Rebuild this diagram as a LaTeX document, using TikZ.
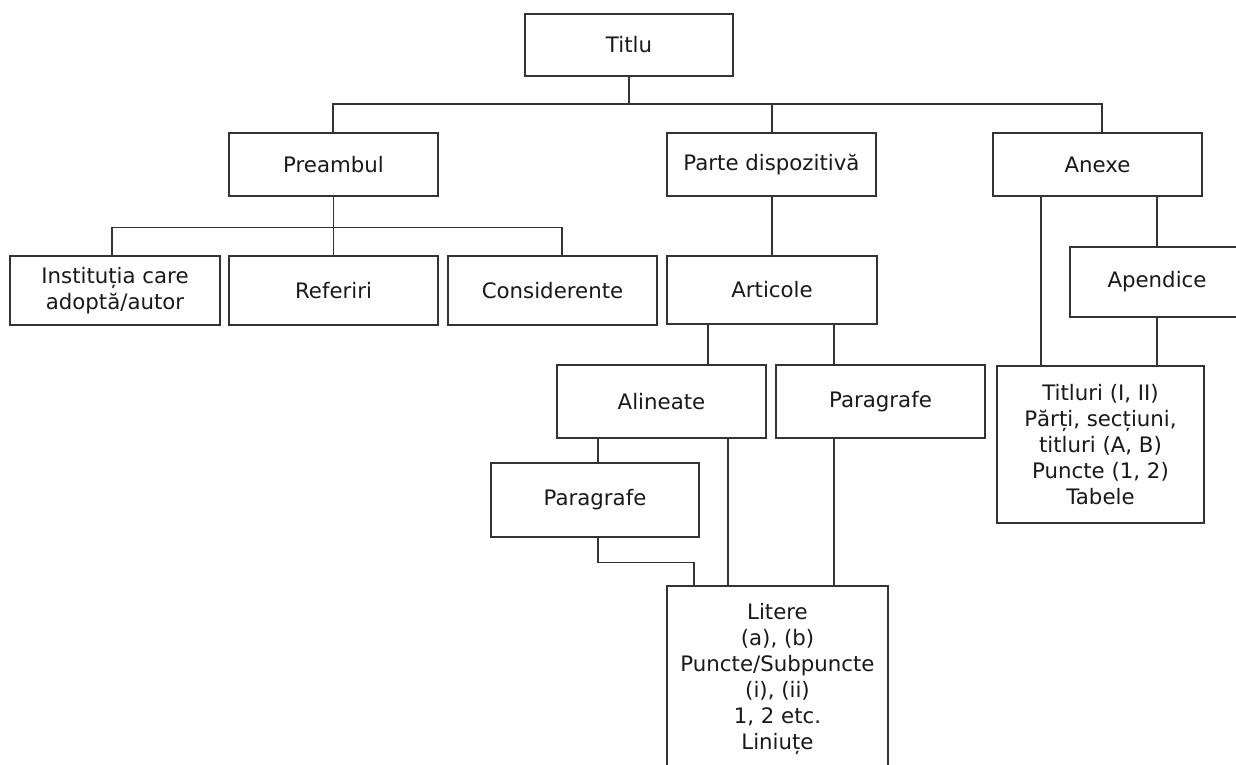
\documentclass[tikz,border=0pt]{standalone}
\usepackage{fontspec}
\setmainfont{DejaVu Sans}
\begin{document}
\begin{tikzpicture}[x=1pt,y=-1pt,
  box/.style={draw=black!80, line width=1.3pt, fill=white, inner sep=0pt, align=center,
    font=\fontsize{21.3}{26}\selectfont, text=black!90},
  conn/.style={draw=black!80, line width=1.3pt}]
\useasboundingbox (0,0) rectangle (1236,764);
\fill[white] (0,0) rectangle (1236,764);
\clip (0,0) rectangle (1236,764);
% boxes
\node[box, minimum width=208pt, minimum height=62pt] (titlu) at (629,45) {Titlu};
\node[box, minimum width=209pt, minimum height=63pt] (preambul) at (333.5,164.5) {Preambul};
\node[box, minimum width=209pt, minimum height=63pt] (parte) at (771.5,164.5) {Parte dispozitivă};
\node[box, minimum width=209pt, minimum height=63pt] (anexe) at (1097.5,164.5) {Anexe};
\node[box, minimum width=210pt, minimum height=69pt] (inst) at (115,290.5) {Instituția care\\adoptă/autor};
\node[box, minimum width=209pt, minimum height=69pt] (referiri) at (333.5,290.5) {Referiri};
\node[box, minimum width=209pt, minimum height=69pt] (consid) at (552.5,290.5) {Considerente};
\node[box, minimum width=210pt, minimum height=68pt] (articole) at (772,290) {Articole};
\node[box, minimum width=174pt, minimum height=70pt] (apendice) at (1157,282) {Apendice};
\node[box, minimum width=209pt, minimum height=73pt] (alineate) at (661.5,401.5) {Alineate};
\node[box, minimum width=209pt, minimum height=73pt] (paragR) at (880.5,401.5) {Paragrafe};
\node[box, minimum width=208pt, minimum height=74pt] (paragL) at (595,500) {Paragrafe};
\node[box, minimum width=207pt, minimum height=157pt] (titluri) at (1100.5,444.5) {Titluri (I, II)\\Părți, secțiuni,\\titluri (A, B)\\Puncte (1, 2)\\Tabele};
\node[box, minimum width=221pt, minimum height=186pt] (litere) at (777.5,679) {Litere\\(a), (b)\\Puncte/Subpuncte\\(i), (ii)\\1, 2 etc.\\Liniuțe};
% connectors
\draw[conn] (titlu.south) -- ++(0,28.5);
\draw[conn] ([xshift=-0.5pt]preambul.north) -- ++(0,-28.5) -| ([xshift=4.5pt]anexe.north);
\draw[conn] ([xshift=0.5pt]parte.north) -- ++(0,-28.5);
\draw[conn] (preambul.south) -- (referiri.north);
\draw[conn] ([xshift=-3pt]inst.north) -- ++(0,-28) -| ([xshift=9.5pt]consid.north);
\draw[conn] ([xshift=0.5pt]parte.south) -- ([xshift=0.5pt]parte.south |- articole.north);
\draw[conn] ([xshift=-64pt]articole.south) -- ([xshift=-64pt]articole.south |- alineate.north);
\draw[conn] ([xshift=62pt]articole.south) -- ([xshift=62pt]articole.south |- paragR.north);
\draw[conn] ([xshift=3pt]paragL.north) -- ([xshift=3pt]paragL.north |- alineate.south);
\draw[conn] ([xshift=66.5pt]alineate.south) -- ([xshift=66.5pt]alineate.south |- litere.north);
\draw[conn] ([xshift=-46.5pt]paragR.south) -- ([xshift=-46.5pt]paragR.south |- litere.north);
\draw[conn] ([xshift=3pt]paragL.south) -- ++(0,25) -| ([xshift=-83.5pt]litere.north);
\draw[conn] ([xshift=-56.5pt]anexe.south) -- ([xshift=-56.5pt]anexe.south |- titluri.north);
\draw[conn] (apendice.north) -- (apendice.north |- anexe.south);
\draw[conn] (apendice.south) -- (apendice.south |- titluri.north);
\end{tikzpicture}
\end{document}
